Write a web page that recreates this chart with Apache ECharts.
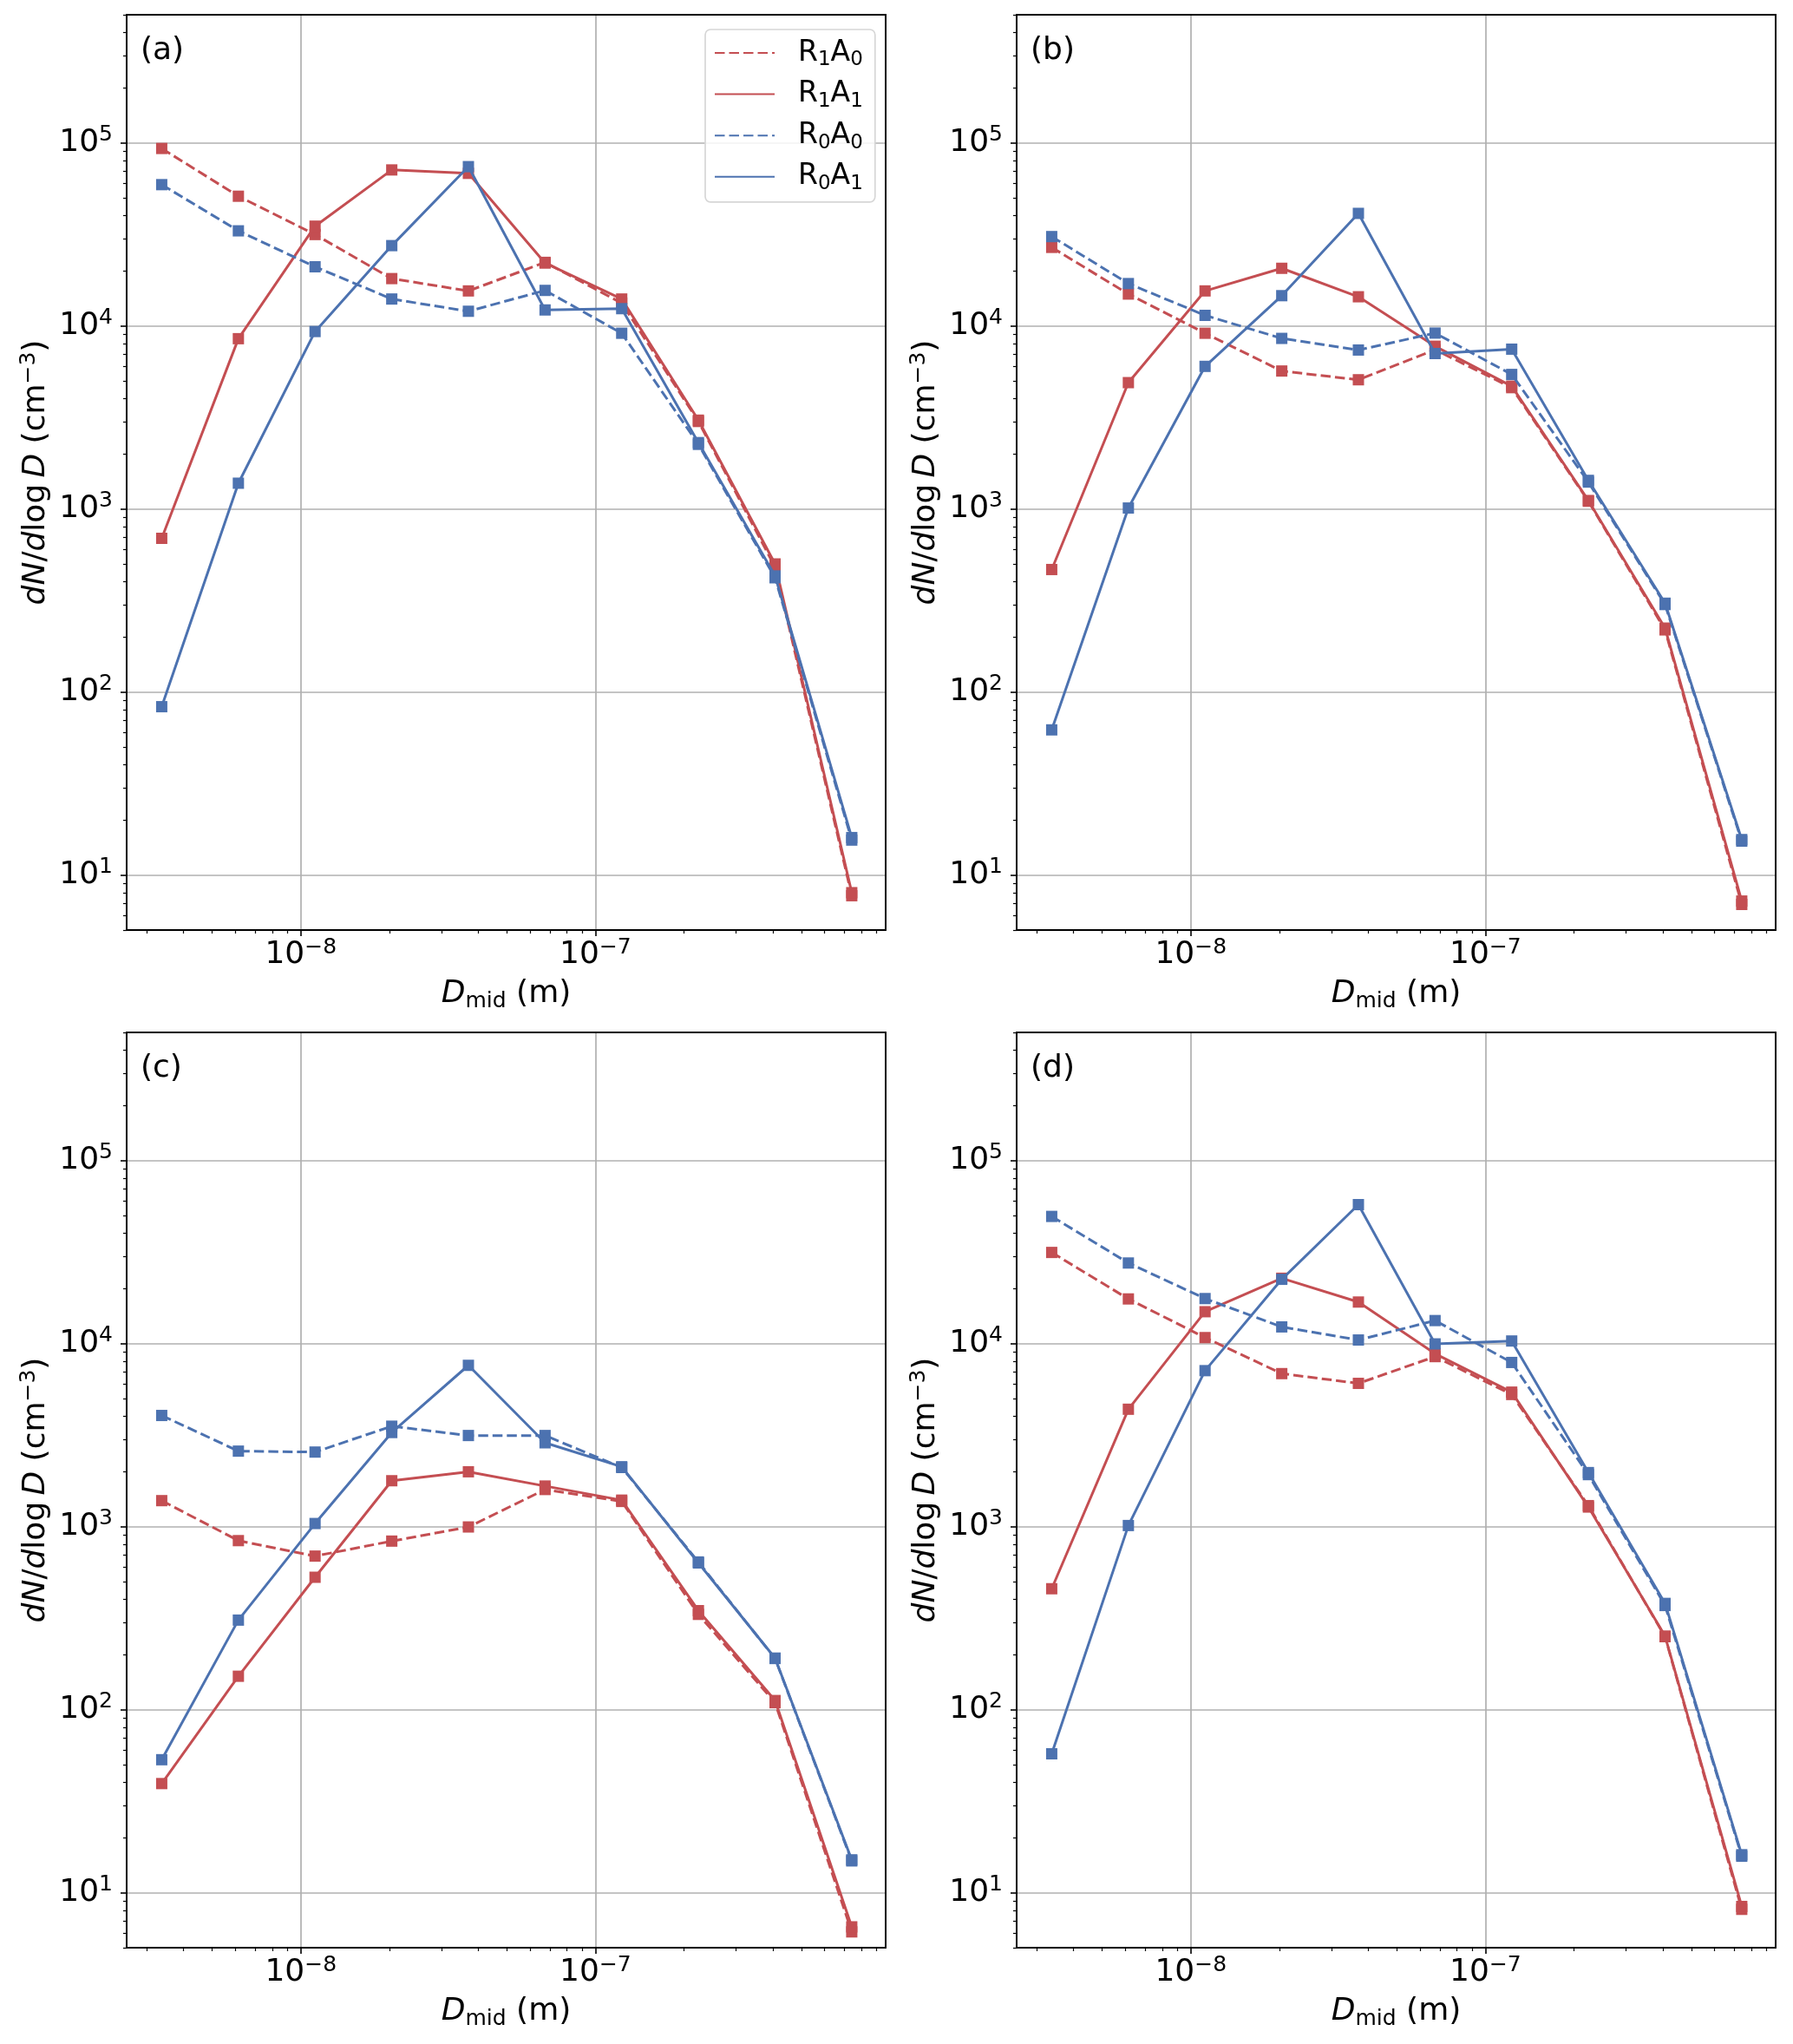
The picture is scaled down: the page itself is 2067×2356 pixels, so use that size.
<!DOCTYPE html>
<html>
<head>
<meta charset="utf-8">
<script src="https://cdn.jsdelivr.net/npm/echarts@6/dist/echarts.min.js"></script>
<style>
html,body{margin:0;padding:0;background:#ffffff;}
#chart{width:2067px;height:2356px;}
</style>
</head>
<body>
<div id="chart"></div>
<script>
// ---------------- data ----------------
const dMid = [3.373e-9, 6.141e-9, 1.118e-8, 2.036e-8, 3.706e-8, 6.747e-8, 1.228e-7, 2.236e-7, 4.071e-7, 7.412e-7];
const seriesNames = ['R1A0', 'R1A1', 'R0A0', 'R0A1'];
const panelLabels = ['(a)', '(b)', '(c)', '(d)'];
const xMajorTicks = [1e-8, 1e-7];
const yMajorTicks = [1e1, 1e2, 1e3, 1e4, 1e5];

const panelA_R1A0 = [93000, 51000, 31500, 18100, 15500, 22200, 13300, 3000, 480, 7.7];
const panelA_R1A1 = [690, 8500, 35000, 71000, 68000, 22000, 14000, 3050, 500, 8.0];
const panelA_R0A0 = [59000, 33000, 21000, 14000, 12000, 15600, 9100, 2250, 420, 15.5];
const panelA_R0A1 = [83, 1380, 9300, 27400, 74000, 12200, 12400, 2300, 430, 16];

const panelB_R1A0 = [26800, 14900, 9100, 5660, 5070, 7400, 4590, 1100, 218, 6.9];
const panelB_R1A1 = [466, 4890, 15500, 20600, 14400, 7730, 4680, 1110, 223, 7.2];
const panelB_R0A0 = [30700, 17000, 11400, 8530, 7370, 9120, 5420, 1400, 300, 15.3];
const panelB_R0A1 = [62, 1010, 6000, 14600, 41100, 7050, 7450, 1430, 305, 15.6];

const panelC_R1A0 = [1384, 837, 689, 832, 994, 1592, 1370, 331, 109, 6.1];
const panelC_R1A1 = [39.4, 152, 528, 1778, 1990, 1663, 1393, 347, 112, 6.5];
const panelC_R0A0 = [4040, 2580, 2550, 3530, 3140, 3140, 2100, 640, 190, 14.9];
const panelC_R0A1 = [53.2, 308, 1038, 3260, 7590, 2865, 2120, 632, 191, 15.1];

const panelD_R1A0 = [31400, 17500, 10760, 6840, 6050, 8470, 5260, 1300, 250, 8.1];
const panelD_R1A1 = [457, 4370, 14900, 22700, 16830, 8790, 5420, 1277, 252, 8.4];
const panelD_R0A0 = [49400, 27500, 17580, 12310, 10440, 13330, 7870, 1920, 370, 15.8];
const panelD_R0A1 = [57.3, 1012, 7100, 22400, 57300, 9940, 10310, 1970, 380, 16.1];

const panels = [
  [panelA_R1A0, panelA_R1A1, panelA_R0A0, panelA_R0A1],
  [panelB_R1A0, panelB_R1A1, panelB_R0A0, panelB_R0A1],
  [panelC_R1A0, panelC_R1A1, panelC_R0A0, panelC_R0A1],
  [panelD_R1A0, panelD_R1A1, panelD_R0A0, panelD_R0A1]
];

// ---------------- style / layout ----------------
const FONT = 'DejaVu Sans';
const FS = 36, SFS = 25, LH = 42;
const LFS = 33, LSFS = 23, LLH = 40;
const RED = '#C44E52', BLUE = '#4C72B0';
const seriesColors = [RED, RED, BLUE, BLUE];
const seriesDashed = [true, false, true, false];
const xMin = Math.pow(10, -8.591), xMax = Math.pow(10, -6.015);
const yMin = 5, yMax = 5e5;
const gridBoxes = [
  {left: 146, top: 17, width: 875, height: 1055},
  {left: 1172, top: 17, width: 875, height: 1055},
  {left: 146, top: 1190, width: 875, height: 1055},
  {left: 1172, top: 1190, width: 875, height: 1055}
];

function minorTicks(lo, hi, e0, e1) {
  const out = [];
  for (let e = e0; e <= e1; e++) {
    for (let m = 2; m <= 9; m++) {
      const v = m * Math.pow(10, e);
      if (v >= lo && v <= hi) out.push(v);
    }
  }
  return out;
}
const xMinor = minorTicks(xMin, xMax, -9, -7);
const yMinor = minorTicks(yMin, yMax, 0, 5);

function powLabel(v) {
  const e = Math.round(Math.log10(v));
  return '10{sup|' + (e < 0 ? '\u2212' + (-e) : String(e)) + '}';
}

const baseText = {fontFamily: FONT, fontSize: FS, color: '#000', lineHeight: LH};
const supStyle = {fontFamily: FONT, fontSize: SFS, color: '#000', lineHeight: 26, verticalAlign: 'top'};
const subStyle = {fontFamily: FONT, fontSize: SFS, color: '#000', lineHeight: 22, verticalAlign: 'bottom'};
const itStyle = {fontFamily: FONT, fontSize: FS, color: '#000', fontStyle: 'italic', lineHeight: LH};
const legSubStyle = {fontFamily: FONT, fontSize: LSFS, color: '#000', lineHeight: 22, verticalAlign: 'bottom'};

const option = {
  animation: false,
  backgroundColor: '#ffffff',
  grid: [], xAxis: [], yAxis: [], series: [], title: [],
  legend: {
    data: seriesNames,
    left: 813, top: 34,
    orient: 'vertical',
    padding: [7, 14, 9, 10],
    itemGap: 7.6,
    itemWidth: 69, itemHeight: 14,
    backgroundColor: 'rgba(255,255,255,0.85)',
    borderColor: '#d6d6d6', borderWidth: 1.7, borderRadius: 6,
    itemStyle: {opacity: 0},
    selectedMode: false,
    formatter: function (name) {
      return 'R{sub|' + name.charAt(1) + '}A{sub|' + name.charAt(3) + '}';
    },
    textStyle: {fontFamily: FONT, fontSize: LFS, color: '#000', lineHeight: LLH, padding: [0, 0, 0, 22], rich: {sub: legSubStyle}}
  }
};

for (let p = 0; p < 4; p++) {
  const g = gridBoxes[p];
  option.grid.push({left: g.left, top: g.top, width: g.width, height: g.height, containLabel: false});
  option.title.push({
    text: panelLabels[p], left: g.left + 16, top: g.top + 21, padding: 0,
    textStyle: {fontFamily: FONT, fontSize: FS, fontWeight: 'normal', color: '#000', lineHeight: LH}
  });
  const xi = option.xAxis.length;
  option.xAxis.push({
    type: 'log', logBase: 10, gridIndex: p, min: xMin, max: xMax, position: 'bottom',
    axisLine: {show: false},
    axisTick: {show: true, customValues: xMajorTicks, length: 7, lineStyle: {color: '#000', width: 1.6}},
    axisLabel: {show: true, customValues: xMajorTicks, margin: 8, formatter: powLabel,
      fontFamily: FONT, fontSize: FS, color: '#000', lineHeight: LH, rich: {sup: supStyle}},
    splitLine: {show: true, lineStyle: {color: '#b0b0b0', width: 1.7}},
    minorTick: {show: false}, minorSplitLine: {show: false},
    name: '{i|D}{sub|mid} (m)', nameLocation: 'middle', nameGap: 53,
    nameTextStyle: Object.assign({}, baseText, {rich: {i: itStyle, sub: Object.assign({}, subStyle, {lineHeight: 20})}})
  });
  option.xAxis.push({
    type: 'log', logBase: 10, gridIndex: p, min: xMin, max: xMax, position: 'bottom', z: 4,
    axisLine: {show: true, onZero: false, lineStyle: {color: '#000', width: 2}},
    axisTick: {show: true, customValues: xMinor, length: 4, lineStyle: {color: '#000', width: 1.2}},
    axisLabel: {show: false}, splitLine: {show: false}
  });
  option.xAxis.push({
    type: 'log', logBase: 10, gridIndex: p, min: xMin, max: xMax, position: 'top', z: 4,
    axisLine: {show: true, onZero: false, lineStyle: {color: '#000', width: 2}},
    axisTick: {show: false}, axisLabel: {show: false}, splitLine: {show: false}
  });
  const yi = option.yAxis.length;
  option.yAxis.push({
    type: 'log', logBase: 10, gridIndex: p, min: yMin, max: yMax, position: 'left',
    axisLine: {show: false},
    axisTick: {show: true, customValues: yMajorTicks, length: 7, lineStyle: {color: '#000', width: 1.6}},
    axisLabel: {show: true, customValues: yMajorTicks, margin: 16, formatter: powLabel,
      fontFamily: FONT, fontSize: FS, color: '#000', lineHeight: LH, rich: {sup: supStyle}},
    splitLine: {show: true, lineStyle: {color: '#b0b0b0', width: 1.7}},
    name: '{i|dN}/{i|d}log\u2009{i|D} (cm{sup|\u22123})', nameLocation: 'middle', nameGap: 83, nameRotate: 90,
    nameTextStyle: Object.assign({}, baseText, {rich: {i: itStyle, sup: supStyle}})
  });
  option.yAxis.push({
    type: 'log', logBase: 10, gridIndex: p, min: yMin, max: yMax, position: 'left', z: 4,
    axisLine: {show: true, onZero: false, lineStyle: {color: '#000', width: 2}},
    axisTick: {show: true, customValues: yMinor, length: 4, lineStyle: {color: '#000', width: 1.2}},
    axisLabel: {show: false}, splitLine: {show: false}
  });
  option.yAxis.push({
    type: 'log', logBase: 10, gridIndex: p, min: yMin, max: yMax, position: 'right', z: 4,
    axisLine: {show: true, onZero: false, lineStyle: {color: '#000', width: 2}},
    axisTick: {show: false}, axisLabel: {show: false}, splitLine: {show: false}
  });
  for (let s = 0; s < 4; s++) {
    const vals = panels[p][s];
    option.series.push({
      type: 'line', name: seriesNames[s], xAxisIndex: xi, yAxisIndex: yi,
      data: dMid.map((x, k) => [x, vals[k]]),
      symbol: 'rect', symbolSize: 13, showSymbol: true,
      color: seriesColors[s],
      itemStyle: {color: seriesColors[s]},
      lineStyle: {color: seriesColors[s], width: 3, type: seriesDashed[s] ? [11.5, 5] : 'solid'},
      z: 2 + s * 0.01
    });
  }
}

const chart = echarts.init(document.getElementById('chart'), null, {width: 2067, height: 2356, renderer: 'canvas'});
chart.setOption(option);
</script>
</body>
</html>
